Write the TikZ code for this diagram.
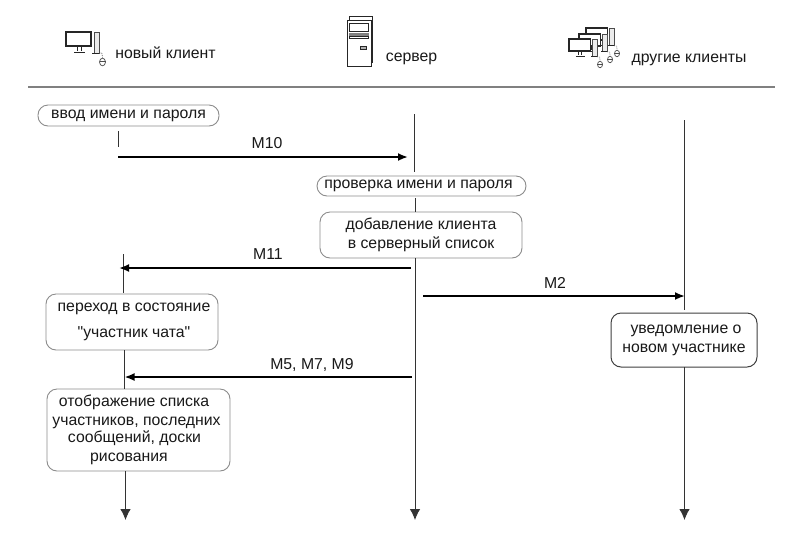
\documentclass[tikz,border=0pt]{standalone}
\usepackage{fontspec}
\setmainfont[Ligatures=TeXOff]{Liberation Sans}
\usetikzlibrary{arrows.meta}
\tikzset{
  x=1pt,y=-1pt,
  lbl/.style={font=\fontsize{15.8}{17.5}\selectfont,text=black!90,inner sep=0pt,align=center},
  boxg/.style={draw=black!45,line width=0.9pt,rounded corners=#1,fill=white,inner sep=0pt},
  boxg/.default=10pt,
  boxd/.style={draw=black!75,line width=1pt,rounded corners=10pt,fill=white,inner sep=0pt},
  life/.style={draw=black!80,line width=0.9pt},
  lifeend/.style={life,-{Latex[length=11pt,width=10.5pt]}},
  msg/.style={draw=black,line width=1.9pt,-{Latex[length=10pt,width=8pt]}},
  icon/.style={draw=black!85,line width=0.8pt},
  icontower/.style={draw=black!70,line width=0.8pt,fill=black!8},
  iconcable/.style={draw=black!65,line width=0.7pt,densely dotted}
}
\newcommand{\pcicon}[3]{%
  \begin{scope}[shift={(#1,#2)},scale=#3]
    \draw[icon,fill=white,line width=1.2pt] (0,0) rectangle (25,14);
    \draw[icon] (11,14) -- (11,19) (15,14) -- (15,19) (8,20) -- (19,20);
    \draw[icontower] (28,0) rectangle (33,21);
    \draw[icon] (33,21) -- (26,21);
    \draw[iconcable] (33,21) -- (36,21) -- (36.5,26);
    \draw[draw=black!70,line width=0.7pt,fill=white] (36.5,30) ellipse (3 and 3.8);
    \draw[draw=black!70,line width=0.4pt] (33.5,29.5) -- (39.5,29.5);
  \end{scope}}
\begin{document}
\begin{tikzpicture}
\useasboundingbox (0,0) rectangle (800,547);
\fill[white] (0,0) rectangle (800,547);

% header icons
\pcicon{66}{32}{1}
\begin{scope}
  \draw[icon,fill=white] (349,16) rectangle (372,62);
  \draw[icon,fill=white,line width=1pt] (347,20) rectangle (371,66);
  \draw[icon] (349,23) rectangle (368,31);
  \fill[black!50] (349,33) rectangle (369,35.5);
  \draw[icon] (349,36.5) rectangle (368,38.5);
  \draw[icon,line width=0.7pt,fill=black!30] (360,46) rectangle (366,49);
\end{scope}
\pcicon{586}{28}{0.85}
\pcicon{579}{34}{0.85}
\pcicon{569}{39}{0.85}

\node[lbl,anchor=base] at (165.5,58) {новый клиент};
\node[lbl,anchor=base] at (411.5,61) {сервер};
\node[lbl,anchor=base] at (689,62) {другие клиенты};

\draw[draw=black!50,line width=1.8pt] (28,87) -- (775,87);

% activity boxes
\node[boxg=10pt,minimum width=181pt,minimum height=21pt,lbl,draw=black!45] (input) at (128.5,115.5) {ввод имени и пароля};
\node[boxg=10pt,minimum width=209pt,minimum height=20pt,lbl,draw=black!45] (check) at (421.5,186) {\hspace*{-6pt}проверка имени и пароля};
\node[boxg=10pt,minimum width=202pt,minimum height=46pt,lbl,draw=black!45] (add) at (421,235) {добавление клиента\\[1.5pt]в серверный список};
\node[boxg=10pt,minimum width=172pt,minimum height=56pt,lbl,draw=black!45] (state) at (132,322) {\hspace*{4pt}переход в состояние\\[8pt]\hspace*{4pt}"участник чата"};
\node[boxg=10pt,minimum width=183pt,minimum height=82pt,lbl,draw=black!45] (show) at (138.5,430) {\hspace*{-9pt}отображение списка\\[1pt]\hspace*{-4pt}участников, последних\\\hspace*{-8pt}сообщений, доски\\[1pt]\hspace*{-19pt}рисования};
\node[boxd,minimum width=146pt,minimum height=54pt,lbl] (notify) at (684,340) {\hspace*{4pt}уведомление о\\[1.5pt]новом участнике};

% lifeline anchors
\coordinate (c1) at (118.5,131);
\coordinate (c2) at (118.5,147);
\coordinate (c3) at (123,254);
\coordinate (c4) at (123,293);
\coordinate (c5) at (124,350);
\coordinate (c6) at (124,389);
\coordinate (c7) at (125.5,471);
\coordinate (c8) at (125.5,520);
\coordinate (s1) at (414.5,114);
\coordinate (s2) at (414.5,171.5);
\coordinate (s3) at (415,198);
\coordinate (s4) at (415,212);
\coordinate (s5) at (415,258);
\coordinate (s6) at (415,520);
\coordinate (o1) at (684.5,120);
\coordinate (o2) at (684.5,310);
\coordinate (o3) at (684.5,367);
\coordinate (o4) at (684.5,520);
\draw[life] (c1) -- (c2);
\draw[life] (c3) -- (c4);
\draw[life] (c5) -- (c6);
\draw[lifeend] (c7) -- (c8);
\draw[life] (s1) -- (s2);
\draw[life] (s3) -- (s4);
\draw[lifeend] (s5) -- (s6);
\draw[life] (o1) -- (o2);
\draw[lifeend] (o3) -- (o4);

% messages
\coordinate (m10a) at (118,157);
\coordinate (m10b) at (408,157);
\coordinate (m11a) at (411,268);
\coordinate (m11b) at (119,268);
\coordinate (m2a) at (423,296);
\coordinate (m2b) at (685,296);
\coordinate (m5a) at (412,377);
\coordinate (m5b) at (124.5,377);
\draw[msg] (m10a) -- (m10b);
\draw[msg] (m11a) -- (m11b);
\draw[msg] (m2a) -- (m2b);
\draw[msg] (m5a) -- (m5b);
\node[lbl,anchor=base] (l10) at (267,148) {М10};
\node[lbl,anchor=base] (l11) at (268,259) {М11};
\node[lbl,anchor=base] (l2) at (555,288) {М2};
\node[lbl,anchor=base] (l5) at (312,369) {М5, М7, М9};
\end{tikzpicture}
\end{document}
